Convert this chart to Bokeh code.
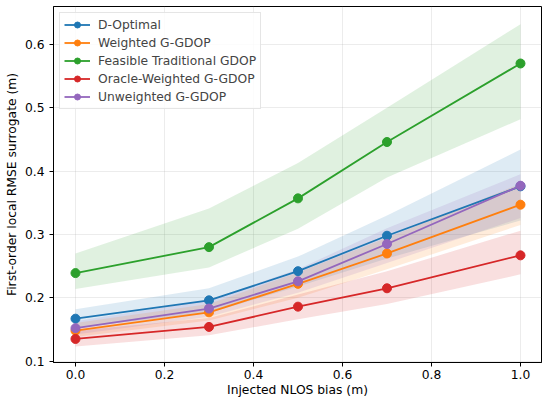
from bokeh.plotting import figure
from bokeh.models import Range1d, FixedTicker, NumeralTickFormatter, Legend
from bokeh.embed import file_html
from bokeh.resources import INLINE

bias = [0.0, 0.3, 0.5, 0.7, 1.0]

names = ["D-Optimal", "Weighted G-GDOP", "Feasible Traditional GDOP",
         "Oracle-Weighted G-GDOP", "Unweighted G-GDOP"]
colors = ["#1f77b4", "#ff7f0e", "#2ca02c", "#d62728", "#9467bd"]

d_opt_mean = [0.167, 0.196, 0.242, 0.298, 0.376]
d_opt_lo = [0.153, 0.176, 0.218, 0.262, 0.322]
d_opt_hi = [0.182, 0.215, 0.265, 0.330, 0.434]

wg_mean = [0.148, 0.177, 0.222, 0.270, 0.347]
wg_lo = [0.138, 0.164, 0.200, 0.245, 0.315]
wg_hi = [0.160, 0.190, 0.240, 0.295, 0.380]

feas_mean = [0.239, 0.280, 0.357, 0.446, 0.570]
feas_lo = [0.214, 0.248, 0.309, 0.390, 0.482]
feas_hi = [0.270, 0.341, 0.413, 0.500, 0.632]

oracle_mean = [0.135, 0.154, 0.186, 0.215, 0.267]
oracle_lo = [0.123, 0.141, 0.166, 0.190, 0.237]
oracle_hi = [0.148, 0.168, 0.205, 0.242, 0.306]

unw_mean = [0.152, 0.183, 0.226, 0.285, 0.377]
unw_lo = [0.142, 0.170, 0.208, 0.255, 0.326]
unw_hi = [0.163, 0.196, 0.245, 0.310, 0.395]

means = [d_opt_mean, wg_mean, feas_mean, oracle_mean, unw_mean]
los = [d_opt_lo, wg_lo, feas_lo, oracle_lo, unw_lo]
his = [d_opt_hi, wg_hi, feas_hi, oracle_hi, unw_hi]

x_ticks = [0.0, 0.2, 0.4, 0.6, 0.8, 1.0]
y_ticks = [0.1, 0.2, 0.3, 0.4, 0.5, 0.6]

FONT = "DejaVu Sans"
FS = "12.3px"

p = figure(width=542, height=399, output_backend="svg", toolbar_location=None,
           x_range=Range1d(-0.0494, 1.0472), y_range=Range1d(0.0978, 0.660),
           min_border_left=53, min_border_right=1, min_border_top=6, min_border_bottom=36)

p.outline_line_color = "black"
p.outline_line_width = 1
p.background_fill_color = "white"
p.border_fill_color = "white"

for i in range(5):
    p.varea(x=bias, y1=los[i], y2=his[i], fill_color=colors[i], fill_alpha=0.15)

items = []
for i in range(5):
    r1 = p.line(bias, means[i], line_color=colors[i], line_width=1.8)
    r2 = p.scatter(bias, means[i], marker="circle", size=9, fill_color=colors[i],
                   line_color=colors[i])
    items.append((names[i], [r1, r2]))

legend = Legend(items=items, location="top_left")
legend.margin = 6
legend.padding = 4
legend.spacing = 3
legend.glyph_height = 15
legend.label_height = 15
legend.glyph_width = 26
legend.label_standoff = 8
legend.label_text_font = FONT
legend.label_text_font_size = FS
legend.border_line_color = "#cccccc"
legend.border_line_width = 1
legend.background_fill_alpha = 0.85
p.add_layout(legend)

p.xaxis.ticker = FixedTicker(ticks=x_ticks)
p.yaxis.ticker = FixedTicker(ticks=y_ticks)
p.xaxis.formatter = NumeralTickFormatter(format="0.0")
p.yaxis.formatter = NumeralTickFormatter(format="0.0")

for ax in (p.xaxis, p.yaxis):
    ax.major_label_text_font = FONT
    ax.major_label_text_font_size = FS
    ax.major_label_text_color = "black"
    ax.axis_label_text_font = FONT
    ax.axis_label_text_font_size = FS
    ax.axis_label_text_font_style = "normal"
    ax.axis_label_text_color = "black"
    ax.minor_tick_line_color = None
    ax.major_tick_in = 0
    ax.major_tick_out = 4
    ax.major_tick_line_color = "black"
    ax.axis_line_color = "black"

p.xaxis.axis_label = "Injected NLOS bias (m)"
p.yaxis.axis_label = "First-order local RMSE surrogate (m)"
p.xaxis.axis_label_standoff = 1
p.yaxis.axis_label_standoff = 3
p.xaxis.major_label_standoff = 3
p.yaxis.major_label_standoff = 5

p.xgrid.grid_line_color = "#b0b0b0"
p.ygrid.grid_line_color = "#b0b0b0"
p.xgrid.grid_line_alpha = 0.3
p.ygrid.grid_line_alpha = 0.3
p.xgrid.grid_line_width = 0.8
p.ygrid.grid_line_width = 0.8

open("out.html", "w").write(file_html(p, INLINE))
